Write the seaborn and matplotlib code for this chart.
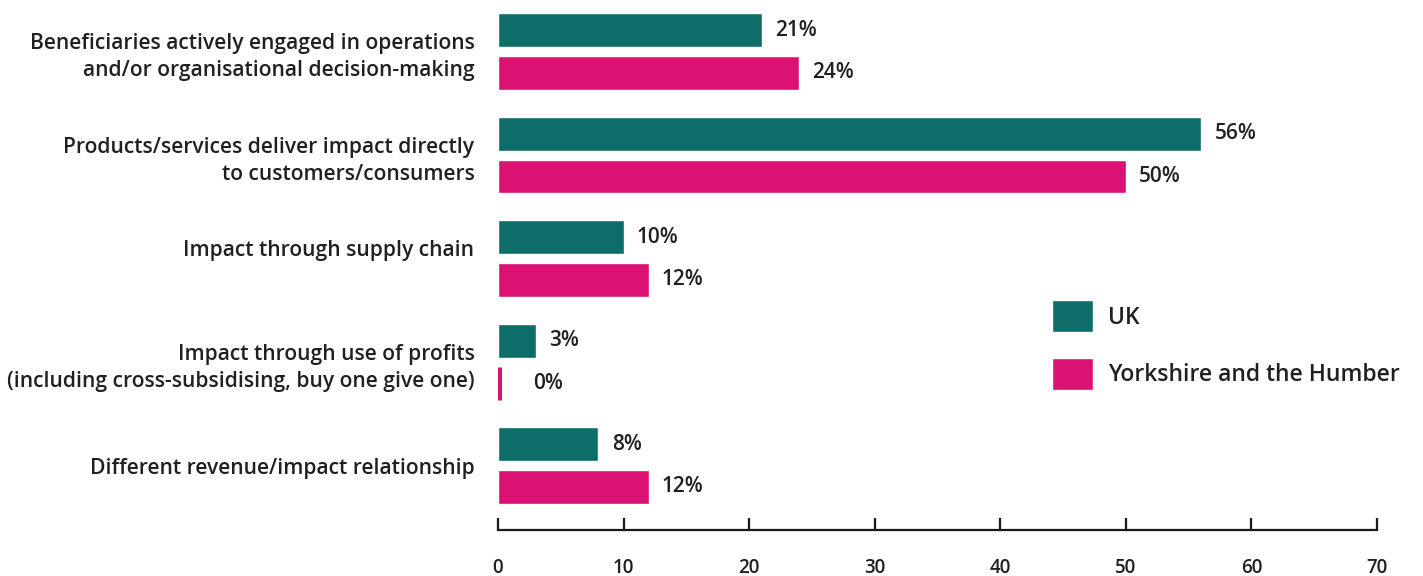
import matplotlib
matplotlib.use("Agg")
import matplotlib.pyplot as plt
import seaborn as sns
import pandas as pd

# Survey categories and the share of respondents (%) per region
categories = [
    "Beneficiaries actively engaged in operations\nand/or organisational decision-making",
    "Products/services deliver impact directly\nto customers/consumers",
    "Impact through supply chain\n",
    "Impact through use of profits\n(including cross-subsidising, buy one give one)",
    "Different revenue/impact relationship",
]
uk_values = [21, 56, 10, 3, 8]
yorkshire_values = [24, 50, 12, 0, 12]
series_names = ["UK", "Yorkshire and the Humber"]
x_ticks = [0, 10, 20, 30, 40, 50, 60, 70]

colors = {"UK": "#0e6d68", "Yorkshire and the Humber": "#db1174"}
text_color = "#231f20"

df = pd.DataFrame({
    "category": categories * 2,
    "region": [series_names[0]] * len(categories) + [series_names[1]] * len(categories),
    "value": uk_values + yorkshire_values,
})

sns.set_theme(style="white")
plt.rcParams["font.family"] = ["Open Sans", "DejaVu Sans"]

fig = plt.figure(figsize=(14.23, 5.76), dpi=100)
ax = fig.add_axes([498 / 1423, 1 - 530 / 576, (1377 - 498) / 1423, 530 / 576])

sns.barplot(
    data=df, x="value", y="category", hue="region", order=categories,
    hue_order=series_names, palette=colors, orient="h",
    width=0.826, gap=0.21, saturation=1, errorbar=None, ax=ax, legend=True,
)

ax.set_xlim(0, 70)
ax.set_ylim(4.623, -0.498)
ax.set_xticks(x_ticks)
ax.set_xlabel("")
ax.set_ylabel("")

for side in ("top", "right", "left"):
    ax.spines[side].set_visible(False)
ax.spines["bottom"].set_color("#1a1a1a")
ax.spines["bottom"].set_linewidth(1.6)
ax.spines["bottom"].set_capstyle("projecting")

ax.tick_params(axis="x", bottom=True, direction="in", length=9, width=1.6,
               color="#1a1a1a", pad=20, labelsize=13.5, labelcolor=text_color)
ax.tick_params(axis="y", left=False, length=0, pad=17, labelsize=15.1,
               labelcolor=text_color)
for lbl in ax.get_yticklabels():
    lbl.set_fontweight("semibold")
    lbl.set_linespacing(1.4)
for lbl in ax.get_xticklabels():
    lbl.set_fontweight("semibold")

# Value labels at the end of every bar
for container, values in zip(ax.containers, [uk_values, yorkshire_values]):
    for patch, v in zip(container.patches, values):
        yc = patch.get_y() + patch.get_height() / 2
        pad = 9.5 if v > 0 else 25
        if v == 0:
            patch.set_edgecolor(patch.get_facecolor())
            patch.set_linewidth(5)
        ax.annotate(f"{v}%", xy=(v, yc), xytext=(pad, 0), textcoords="offset points",
                    va="center", ha="left", fontsize=15, fontweight="semibold",
                    color=text_color)

leg = ax.legend(
    loc="upper left", bbox_to_anchor=(1052 / 1423, 1 - 300 / 576),
    bbox_transform=fig.transFigure, frameon=False, fontsize=16.5,
    handlelength=1.8, handleheight=1.8, handletextpad=0.66,
    labelspacing=1.1, borderaxespad=0, borderpad=0,
)
for t in leg.get_texts():
    t.set_color(text_color)
    t.set_fontweight("semibold")

fig.savefig("out.png", dpi=100)
